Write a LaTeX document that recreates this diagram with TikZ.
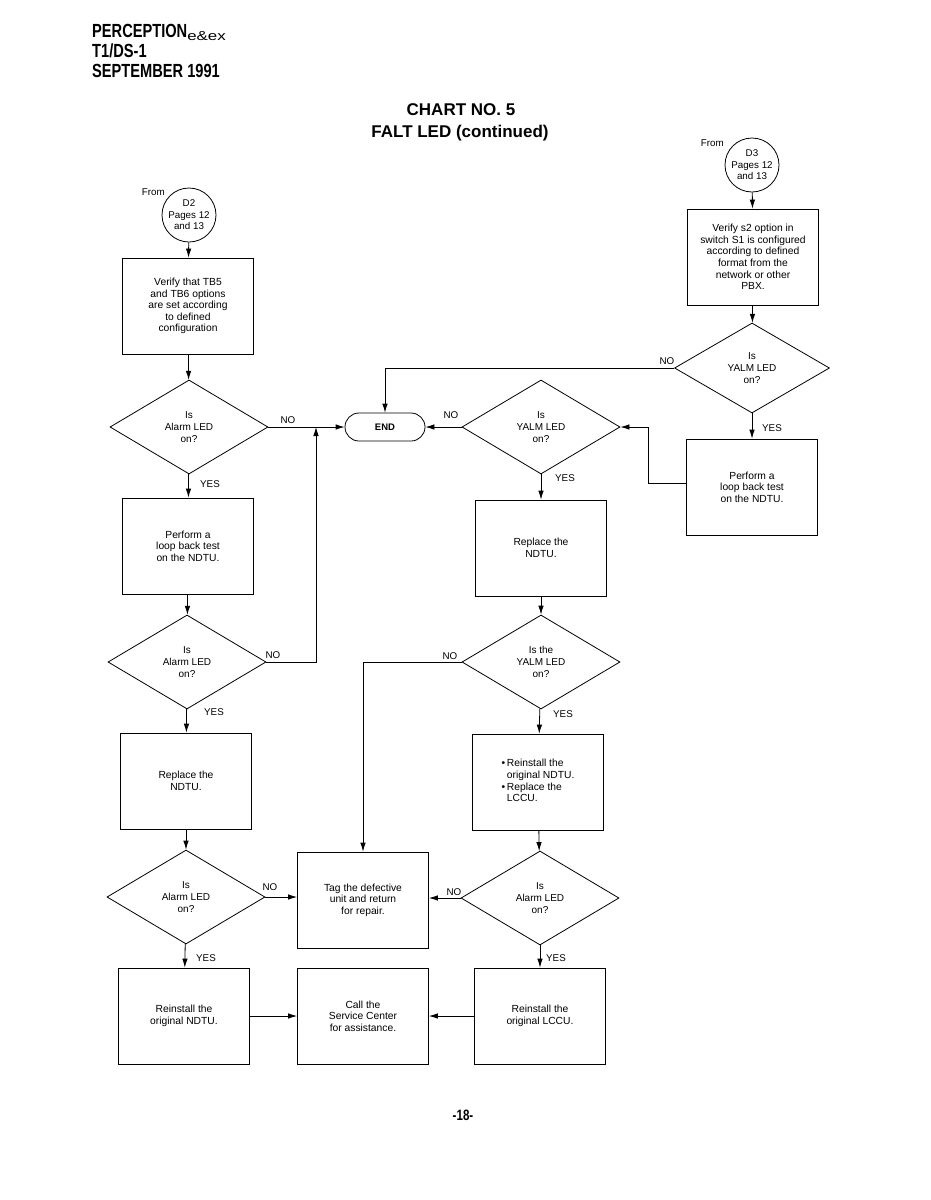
\documentclass[tikz,border=0pt]{standalone}
\usepackage{fontspec}
\setmainfont{Liberation Sans}
\newfontfamily\condfont[FakeStretch=0.77]{Liberation Sans}
\newfontfamily\widefont[FakeStretch=1.3]{Liberation Sans}
\usetikzlibrary{shapes.geometric,arrows.meta}
\begin{document}
\begin{tikzpicture}[x=1pt,y=-1pt,
  box/.style={draw,line width=0.8pt,minimum width=131pt,minimum height=96pt,align=center,inner sep=2pt,font=\fontsize{10.3}{11.6}\selectfont},
  dia/.style={draw,diamond,line width=0.8pt,minimum width=158pt,minimum height=94pt,inner sep=0pt,align=center,font=\fontsize{10}{12}\selectfont},
  conn/.style={draw,circle,line width=0.8pt,minimum size=54pt,inner sep=0pt,align=center,font=\fontsize{9.8}{11.4}\selectfont},
  term/.style={draw,line width=0.8pt,rounded corners=14pt,minimum width=80pt,minimum height=28pt,font=\bfseries\fontsize{9.5}{11}\selectfont},
  arr/.style={line width=0.8pt,-{Latex[length=9pt,width=5.5pt]}},
  lbl/.style={font=\fontsize{9.8}{11}\selectfont,inner sep=0pt}
]
\useasboundingbox (0,0) rectangle (930,1200);

% header
\node[anchor=base west,inner sep=0pt,font=\condfont\bfseries\fontsize{19}{21}\selectfont] (h1) at (92,37) {PERCEPTION\raisebox{-3pt}{\widefont\mdseries\fontsize{13}{13}\selectfont e\&ex}};
\node[anchor=base west,inner sep=0pt,font=\condfont\bfseries\fontsize{19}{21}\selectfont] (h2) at (92,57) {T1/DS-1};
\node[anchor=base west,inner sep=0pt,font=\condfont\bfseries\fontsize{19}{21}\selectfont] (h3) at (92,77) {SEPTEMBER 1991};
\node[anchor=base,inner sep=0pt,font=\bfseries\fontsize{17}{20}\selectfont] (t1) at (461,115) {CHART NO. 5};
\node[anchor=base,inner sep=0pt,font=\bfseries\fontsize{17}{20}\selectfont] (t2) at (460,137) {FALT LED (continued)};
\node[anchor=base,inner sep=0pt,font=\condfont\bfseries\fontsize{15}{18}\selectfont] (pg) at (463,1120) {-18-};

% left column
\node[lbl,anchor=east] (f2) at (165,192) {From};
\node[conn] (c2) at (189,215) {D2\\Pages 12\\and 13};
\node[box] (b1) at (188,306) {Verify that TB5\\and TB6 options\\are set according\\to defined\\configuration};
\node[dia] (d1) at (189,427) {Is\\Alarm LED\\on?};
\node[box] (b2) at (188,546) {Perform a\\loop back test\\on the NDTU.};
\node[dia] (d2) at (187,662) {Is\\Alarm LED\\on?};
\node[box] (b3) at (186,781) {Replace the\\NDTU.};
\node[dia] (d3) at (186,897) {Is\\Alarm LED\\on?};
\node[box] (b4) at (184,1016) {Reinstall the\\original NDTU.};

% middle column
\node[term] (endn) at (385,427) {END};
\node[box] (tag) at (363,900) {Tag the defective\\unit and return\\for repair.};
\node[box] (call) at (363,1016) {Call the\\Service Center\\for assistance.};

% right-middle column
\node[dia] (d5) at (541,427) {Is\\YALM LED\\on?};
\node[box] (b5) at (541,548) {Replace the\\NDTU.};
\node[dia] (d6) at (541,662) {Is the\\YALM LED\\on?};
\node[box] (b6) at (538,782) {\begin{tabular}{@{}l@{\,}l@{}}\textbullet&Reinstall the\\&original NDTU.\\\textbullet&Replace the\\&LCCU.\end{tabular}};
\node[dia] (d7) at (540,898) {Is\\Alarm LED\\on?};
\node[box] (b7) at (540,1016) {Reinstall the\\original LCCU.};

% right column
\node[lbl,anchor=east] (f3) at (724,143) {From};
\node[conn] (c3) at (752,165) {D3\\Pages 12\\and 13};
\node[box] (b8) at (753,257) {Verify s2 option in\\switch S1 is configured\\according to defined\\format from the\\network or other\\PBX.};
\node[dia,minimum width=155pt,minimum height=90pt] (d8) at (752,368) {Is\\YALM LED\\on?};
\node[box] (b9) at (752,487) {Perform a\\loop back test\\on the NDTU.};

% connectors left
\draw[arr] (c2) -- (b1);
\draw[arr] (b1) -- (d1);
\draw[arr] (d1) -- (endn);
\node[lbl] at (288,420) {NO};
\draw[arr] (d1) -- (b2);
\node[lbl] at (210,484) {YES};
\draw[arr] (b2) -- (d2);
\coordinate (j1) at (316,427);
\draw[arr] (d2.east) -| (j1);
\node[lbl] at (273,655) {NO};
\draw[arr] (d2) -- (b3);
\node[lbl] at (214,712) {YES};
\draw[arr] (b3) -- (d3);
\draw[arr] (d3.east) -- (d3.east -| tag.west);
\node[lbl] at (270,887) {NO};
\draw[arr] (d3) -- (b4);
\node[lbl] at (206,958) {YES};
\draw[arr] (b4) -- (call);

% connectors right-middle
\draw[arr] (d5) -- (endn);
\node[lbl] at (451,415) {NO};
\draw[arr] (d5) -- (b5);
\node[lbl] at (565,478) {YES};
\draw[arr] (b5) -- (d6);
\draw[arr] (d6.west) -| (tag.north);
\node[lbl] at (450,656) {NO};
\draw[arr] (d6) -- (b6);
\node[lbl] at (563,714) {YES};
\draw[arr] (b6) -- (d7);
\draw[arr] (d7.west) -- (d7.west -| tag.east);
\node[lbl] at (454,892) {NO};
\draw[arr] (d7) -- (b7);
\node[lbl] at (556,958) {YES};
\draw[arr] (b7) -- (call);

% connectors right
\draw[arr] (c3) -- (b8);
\draw[arr] (b8) -- (d8);
\draw[arr] (d8.west) -| (endn.north);
\node[lbl] at (667,361) {NO};
\draw[arr] (d8) -- (b9);
\node[lbl] at (772,428) {YES};
\draw[arr] (b9.west |- 0,483) -- (648,483) |- (d5.east);
\end{tikzpicture}
\end{document}
